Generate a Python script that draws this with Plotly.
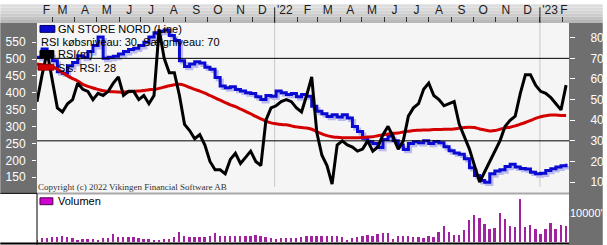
import plotly.graph_objects as go
import pandas as pd

# ---------------- data (weekly) ----------------
weeks = pd.date_range("2021-02-08", periods=105, freq="7D")

price = [505, 530, 515, 495, 462, 458, 480, 490, 510, 505,
         522, 540, 565, 502, 505, 508, 515, 522, 528, 532,
         540, 550, 565, 578, 582, 586, 570, 555, 495, 478,
         485, 492, 488, 476, 470, 445, 420, 415, 418, 410,
         405, 400, 398, 388, 380, 392, 390, 405, 400, 395,
         398, 388, 395, 390, 360, 345, 338, 330, 335, 328,
         335, 325, 300, 285, 265, 255, 250, 238, 262, 272,
         258, 245, 232, 250, 255, 252, 258, 250, 256, 252,
         240, 228, 222, 218, 205, 178, 155, 140, 135, 160,
         168, 172, 182, 188, 180, 176, 174, 165, 160, 162,
         170, 175, 180, 184, 190]

rsi = [49, 62, 73, 60, 46, 44, 48, 50, 58, 55,
       54, 50, 53, 52, 54, 58, 61, 52, 54, 54,
       50, 52, 48, 52, 84, 70, 63, 63, 52, 38,
       35, 31, 33, 28, 20, 16, 16, 14, 21, 24,
       19, 22, 25, 20, 18, 40, 46, 47, 49, 50,
       49, 46, 44, 52, 61, 34, 23, 18, 9, 28,
       30, 28, 27, 25, 26, 30, 25, 27, 33, 37,
       32, 26, 30, 42, 46, 48, 55, 58, 52, 50,
       47, 48, 49, 38, 32, 26, 18, 10, 15, 20,
       25, 30, 37, 40, 42, 53, 62, 62, 57, 54,
       53, 51, 48, 45, 57]

ma = [485, 483, 480, 477, 470, 460, 450, 442, 435, 425,
      419, 414, 410, 406, 404, 403, 402, 402, 403, 404,
      405, 407, 409, 410, 413, 417, 421, 424, 425, 422,
      416, 410, 405, 399, 392, 385, 378, 371, 364, 359,
      352, 345, 338, 330, 323, 316, 311, 308, 306, 305,
      302, 299, 297, 296, 292, 285, 278, 273, 270, 268,
      267, 267, 267, 267, 268, 269, 270, 273, 275, 278,
      280, 281, 284, 286, 288, 289, 290, 290, 291, 291,
      292, 292, 293, 295, 297, 298, 297, 293, 290, 287,
      288, 292, 296, 298, 302, 307, 312, 318, 324, 329,
      332, 334, 334, 333, 333]

volume = [670, 1330, 1330, 1670, 1670, 2000, 1670, 1330, 670, 1000,
          1000, 1000, 670, 1330, 1330, 2670, 1670, 1670, 1670, 1670,
          1330, 1000, 1000, 670, 330, 1000, 1000, 1670, 3330, 2000,
          1670, 1670, 1670, 1670, 2000, 3000, 2000, 2000, 2000, 2000,
          2000, 2000, 2000, 2330, 2000, 1670, 1330, 1000, 1330, 1330,
          1330, 1330, 1670, 2000, 2000, 2000, 2000, 2000, 2000, 2000,
          1670, 670, 1330, 1670, 2000, 2330, 2000, 2670, 3000, 3000,
          1000, 2000, 2000, 2000, 1670, 1670, 1330, 2000, 1670, 3330,
          5330, 3330, 2330, 2330, 4000, 7330, 9000, 8000, 6000, 4330,
          4670, 9670, 7670, 5330, 5000, 14670, 5000, 5670, 4330, 2670,
          4330, 6330, 4330, 5670, 5330]

month_labels = ["F", "M", "A", "M", "J", "J", "A", "S", "O", "N", "D", "'22",
                "F", "M", "A", "M", "J", "J", "A", "S", "O", "N", "D", "'23", "F"]
month_label_dates = ["2021-02-21"] + [d.strftime("%Y-%m-15") for d in
                     pd.date_range("2021-03-01", "2023-01-01", freq="MS")] + ["2023-02-03"]
month_starts = [d.strftime("%Y-%m-%d") for d in pd.date_range("2021-03-01", "2023-02-01", freq="MS")]
year_starts = ["2022-01-01", "2023-01-01"]
price_ticks = [150, 200, 250, 300, 350, 400, 450, 500, 550]
rsi_ticks = [10, 20, 30, 40, 50, 60, 70, 80]
rsi_levels = [30, 70]

assert len(price) == len(rsi) == len(ma) == len(volume) == len(weeks)

# ---------------- figure ----------------
W, H = 607, 245
ML, MR, MT, MB = 37, 34, 19, 3
PW, PH = W - ML - MR, H - MT - MB


def px(x):
    return (x - ML) / PW


def py(y):
    return (H - MB - y) / PH


FONT = "Liberation Sans"
PANEL = "#6f6f6f"
main_bottom = py(192)
vol_top = py(193.5)

fig = go.Figure()

# shadow of price line
fig.add_trace(go.Scatter(
    x=weeks + pd.Timedelta(days=3), y=[p - 7 for p in price], mode="lines",
    line=dict(color="#b9b9ee", width=3, shape="hv"), xaxis="x", yaxis="y",
    hoverinfo="skip", showlegend=False))
fig.add_trace(go.Scatter(
    x=weeks, y=price, mode="lines", line=dict(color="#0a0ad2", width=3, shape="hv"),
    xaxis="x", yaxis="y", showlegend=False))
fig.add_trace(go.Scatter(
    x=weeks, y=ma, mode="lines", line=dict(color="#d40000", width=3, shape="spline", smoothing=0.6),
    xaxis="x", yaxis="y", showlegend=False))
fig.add_trace(go.Scatter(
    x=weeks, y=rsi, mode="lines", line=dict(color="#000000", width=3),
    xaxis="x", yaxis="y2", showlegend=False))
fig.add_trace(go.Bar(
    x=weeks, y=volume, marker=dict(color="#a0229f", line=dict(width=0)),
    width=2.6 * 86400000, xaxis="x2", yaxis="y3", showlegend=False))

shapes = []
# main plot background
shapes.append(dict(type="rect", xref="paper", yref="paper", x0=0, x1=1, y0=main_bottom, y1=1,
                   fillcolor="#f5f5f5", line=dict(width=0), layer="below"))
# top date strip (gradient imitation)
strip_cols = ["#b8b8b8", "#c2c2c2", "#cbcbcb", "#d3d3d3", "#dadada", "#dedede"]
nb = len(strip_cols)
for i, c in enumerate(strip_cols):
    shapes.append(dict(type="rect", xref="paper", yref="paper", x0=px(0), x1=px(W),
                       y0=py(19 - 19 * i / nb), y1=py(19 - 19 * (i + 1) / nb),
                       fillcolor=c, line=dict(width=0), layer="below"))
# left and right dark panels
shapes.append(dict(type="rect", xref="paper", yref="paper", x0=px(0), x1=0, y0=py(192), y1=1,
                   fillcolor=PANEL, line=dict(width=0), layer="below"))
shapes.append(dict(type="rect", xref="paper", yref="paper", x0=1, x1=px(W), y0=py(H), y1=1,
                   fillcolor=PANEL, line=dict(width=0), layer="below"))
# separators / borders
shapes.append(dict(type="line", xref="paper", yref="paper", x0=0, x1=1, y0=py(192.5), y1=py(192.5),
                   line=dict(color="#a8a8a8", width=2)))
shapes.append(dict(type="line", xref="paper", yref="paper", x0=px(0), x1=0, y0=py(192.5), y1=py(192.5),
                   line=dict(color="#000000", width=1)))
shapes.append(dict(type="line", xref="paper", yref="paper", x0=0, x1=0, y0=py(245), y1=py(192.5),
                   line=dict(color="#000000", width=1)))
shapes.append(dict(type="line", xref="paper", yref="paper", x0=px(0), x1=1, y0=py(243.5), y1=py(243.5),
                   line=dict(color="#000000", width=2)))
# RSI buy/sell levels
for lv in rsi_levels:
    shapes.append(dict(type="line", xref="paper", yref="y2", x0=0, x1=1, y0=lv, y1=lv,
                       line=dict(color="#000000", width=1)))
# year separators
for ys in year_starts:
    shapes.append(dict(type="line", xref="x", yref="paper", x0=ys, x1=ys, y0=py(186), y1=1,
                       line=dict(color="#c8c8c8", width=1), layer="below"))
    shapes.append(dict(type="line", xref="x", yref="paper", x0=ys, x1=ys, y0=1, y1=py(3),
                       line=dict(color="#202020", width=1)))
# legend boxes
shapes.append(dict(type="rect", xref="paper", yref="paper", x0=px(40), x1=px(55), y0=py(28.5), y1=py(21.5),
                   fillcolor="#0a0ad2", line=dict(color="#000060", width=1)))
shapes.append(dict(type="rect", xref="paper", yref="paper", x0=px(40), x1=px(54), y0=py(54), y1=py(47),
                   fillcolor="#000000", line=dict(color="#000000", width=1)))
shapes.append(dict(type="rect", xref="paper", yref="paper", x0=px(38), x1=px(54), y0=py(67), y1=py(61),
                   fillcolor="#d40000", line=dict(color="#900000", width=1)))
shapes.append(dict(type="rect", xref="paper", yref="paper", x0=px(40), x1=px(53), y0=py(204), y1=py(197),
                   fillcolor="#d000d0", line=dict(color="#500050", width=1)))

annotations = []


def note(text, x, y, size=11, family=FONT, color="#000000"):
    annotations.append(dict(text=text, xref="paper", yref="paper", x=px(x), y=py(y),
                            xanchor="left", yanchor="middle", showarrow=False,
                            font=dict(family=family, size=size, color=color)))


note("GN STORE NORD (Line)", 56, 25.5)
note("RSI købsniveau: 30, Sælgniveau: 70", 39, 38.5)
note("RSI(m)", 56, 51)
note("Sis. RSI: 28", 56, 64.5)
note("Volumen", 56, 200)
note("Copyright (c) 2022 Vikingen Financial Software AB", 36, 186, size=9,
     family="Liberation Serif", color="#333333")

fig.update_layout(
    width=W, height=H,
    margin=dict(l=ML, r=MR, t=MT, b=MB, pad=0),
    paper_bgcolor="#ffffff", plot_bgcolor="#ffffff",
    showlegend=False, bargap=0,
    font=dict(family=FONT),
    shapes=shapes, annotations=annotations,
    xaxis=dict(domain=[0, 1], anchor="y", side="top", type="date",
               range=["2021-02-08", "2023-02-10"],
               tickmode="array", tickvals=month_label_dates, ticktext=month_labels,
               ticks="", showgrid=False, zeroline=False, showline=False,
               tickfont=dict(family=FONT, size=12, color="#1a1a1a"), ticklabelstandoff=6,
               minor=dict(tickmode="array", tickvals=month_starts, ticks="outside",
                          ticklen=5, tickwidth=1, tickcolor="#333333", showgrid=False)),
    yaxis=dict(domain=[main_bottom, 1], anchor="x", range=[103.5, 606.7],
               tickmode="array", tickvals=price_ticks, ticks="outside", ticklen=4,
               tickcolor="#ffffff", tickwidth=1, showgrid=False, zeroline=False,
               tickfont=dict(family=FONT, size=12, color="#ffffff"), ticklabelstandoff=4),
    yaxis2=dict(overlaying="y", side="right", anchor="x", range=[4.76, 87.14],
                tickmode="array", tickvals=rsi_ticks, ticks="outside", ticklen=5,
                tickcolor="#ffffff", tickwidth=1, showgrid=False, zeroline=False,
                tickfont=dict(family=FONT, size=12, color="#ffffff"), ticklabelstandoff=13),
    xaxis2=dict(domain=[0, 1], anchor="y3", matches="x", type="date",
                showticklabels=False, ticks="", showgrid=False, zeroline=False),
    yaxis3=dict(domain=[0, vol_top], anchor="x2", side="right", range=[0, 16333],
                tickmode="array", tickvals=[10000], ticktext=["10000'"], ticks="",
                showgrid=False, zeroline=False,
                tickfont=dict(family=FONT, size=11, color="#ffffff"), ticklabelstandoff=0),
)

fig.write_html("out.html")
